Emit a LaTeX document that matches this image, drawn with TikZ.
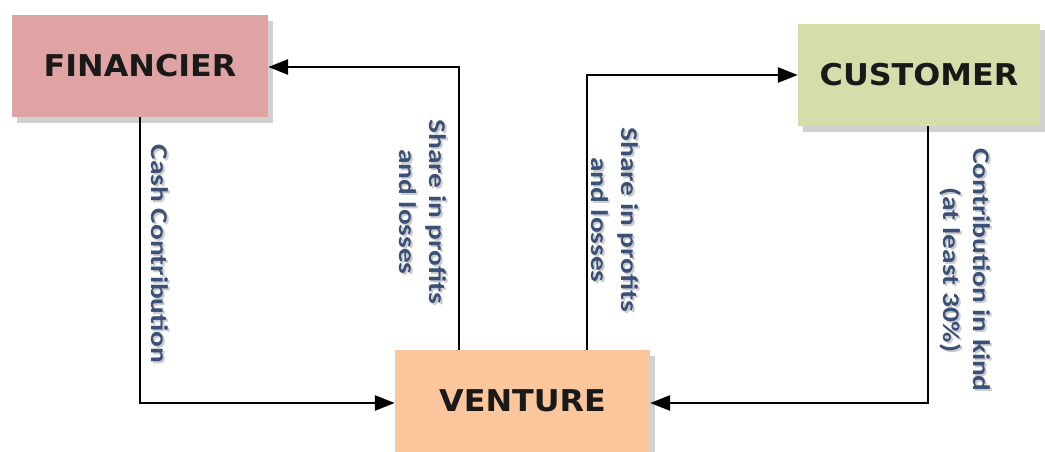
\documentclass[tikz,border=0pt]{standalone}
\usepackage{fontspec}
\newfontfamily\boxfont[FakeStretch=1.06]{DejaVu Sans}
\newfontfamily\labfont[FakeStretch=1.22]{Carlito}
\usetikzlibrary{arrows.meta,shadows}
\definecolor{finfill}{HTML}{E0A3A4}
\definecolor{cusfill}{HTML}{D4DEAA}
\definecolor{venfill}{HTML}{FBC69C}
\definecolor{labcol}{HTML}{3A5076}
\tikzset{
  party/.style={draw=none, minimum width=#1, minimum height=102pt, inner sep=0pt,
    font=\boxfont\bfseries\fontsize{30}{36}\selectfont, text=black!90,
    drop shadow={shadow xshift=5pt, shadow yshift=-6pt, opacity=0.3, fill=black!60}},
  flow/.style={line width=2.8pt, -{Triangle[length=20pt, width=15pt]}},
  lab/.style={rotate=-90, align=center, text=labcol, inner sep=0pt,
    font=\labfont\bfseries\fontsize{24}{30}\selectfont},
  labshadow/.style={lab, text=black!40, opacity=0.5}
}
\begin{document}
\begin{tikzpicture}[x=1pt,y=-1pt]
\useasboundingbox (0,0) rectangle (1045,452);
\node[party=256pt, fill=finfill] (fin) at (140,66) {FINANCIER};
\node[party=242pt, fill=cusfill] (cus) at (919,75) {CUSTOMER};
\node[party=255pt, fill=venfill] (ven) at (522.5,401) {VENTURE};
\coordinate (c1) at (140,403);
\coordinate (c2) at (459,67);
\coordinate (c3) at (587,75);
\coordinate (c4) at (928,403);
\draw[flow] (fin.south -| c1) -- (c1) -- (c1 -| ven.west);
\draw[flow] (ven.north -| c2) -- (c2) -- (c2 -| fin.east);
\draw[flow] (ven.north -| c3) -- (c3) -- (c3 -| cus.west);
\draw[flow] (cus.south -| c4) -- (c4) -- (c4 -| ven.east);
\node[labshadow] at (162,256) {Cash Contribution};
\node[lab] (l1) at (160,254) {Cash Contribution};
\node[labshadow] at (425,214) {Share in profits\\and losses};
\node[lab] (l2) at (423,212) {Share in profits\\and losses};
\node[labshadow] at (617,222) {Share in profits\\and losses};
\node[lab] (l3) at (615,220) {Share in profits\\and losses};
\node[labshadow] at (967,272) {Contribution in kind\\(at least 30\%)};
\node[lab] (l4) at (965,270) {Contribution in kind\\(at least 30\%)};
\end{tikzpicture}
\end{document}
